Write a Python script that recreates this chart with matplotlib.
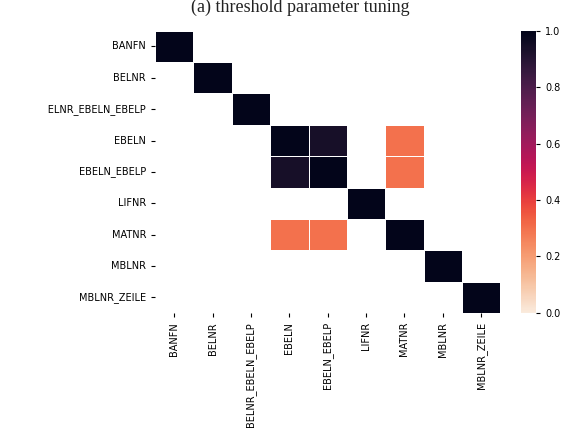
import numpy as np
import matplotlib.pyplot as plt
import seaborn as sns
from matplotlib.transforms import Bbox, TransformedBbox, IdentityTransform

fields = ["BANFN", "BELNR", "BELNR_EBELN_EBELP", "EBELN", "EBELN_EBELP",
          "LIFNR", "MATNR", "MBLNR", "MBLNR_ZEILE"]

# pairwise similarity between fields (0 = unrelated, left blank)
sim = np.array([
    [1.00, 0.00, 0.00, 0.00, 0.00, 0.00, 0.00, 0.00, 0.00],
    [0.00, 1.00, 0.00, 0.00, 0.00, 0.00, 0.00, 0.00, 0.00],
    [0.00, 0.00, 1.00, 0.00, 0.00, 0.00, 0.00, 0.00, 0.00],
    [0.00, 0.00, 0.00, 1.00, 0.94, 0.00, 0.30, 0.00, 0.00],
    [0.00, 0.00, 0.00, 0.94, 1.00, 0.00, 0.30, 0.00, 0.00],
    [0.00, 0.00, 0.00, 0.00, 0.00, 1.00, 0.00, 0.00, 0.00],
    [0.00, 0.00, 0.00, 0.30, 0.30, 0.00, 1.00, 0.00, 0.00],
    [0.00, 0.00, 0.00, 0.00, 0.00, 0.00, 0.00, 1.00, 0.00],
    [0.00, 0.00, 0.00, 0.00, 0.00, 0.00, 0.00, 0.00, 1.00],
])

fig = plt.figure(figsize=(5.66, 4.28), dpi=100)
ax = fig.add_axes([0.274, 0.269, 0.610, 0.659])
cax = fig.add_axes([0.921, 0.269, 0.026, 0.659])

sns.heatmap(sim, mask=(sim == 0), cmap="rocket_r", vmin=0, vmax=1,
            linewidths=0.5, linecolor="white",
            xticklabels=fields, yticklabels=fields,
            ax=ax, cbar_ax=cax)

ax.tick_params(labelsize=7, length=3, width=0.8)
ax.set_xticklabels(fields, rotation=90)
ax.set_yticklabels(fields, rotation=0)
cax.tick_params(labelsize=7, length=3, width=0.8)
cax.set_yticks([0, 0.2, 0.4, 0.6, 0.8, 1.0])

# the figure is trimmed on the left, cutting the longest row label
trim = TransformedBbox(Bbox([[47, 0], [566, 428]]), IdentityTransform())
for lbl in ax.get_yticklabels():
    lbl.set_clip_box(trim)
    lbl.set_clip_on(True)

fig.text(0.53, 0.972, "(a) threshold parameter tuning", ha="center", va="baseline",
         fontsize=13, family="Liberation Serif", color="#222222")

fig.savefig("out.png", dpi=100)
